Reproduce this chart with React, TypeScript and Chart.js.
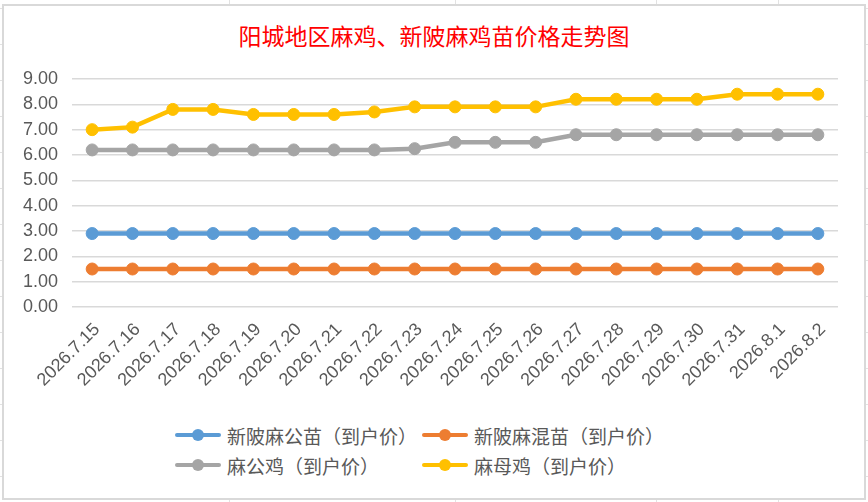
import { useEffect, useRef } from "react";
import { Chart, registerables } from "chart.js";

Chart.register(...registerables);

const categories = [
  "2026.7.15", "2026.7.16", "2026.7.17", "2026.7.18", "2026.7.19",
  "2026.7.20", "2026.7.21", "2026.7.22", "2026.7.23", "2026.7.24",
  "2026.7.25", "2026.7.26", "2026.7.27", "2026.7.28", "2026.7.29",
  "2026.7.30", "2026.7.31", "2026.8.1", "2026.8.2",
];

const xinpiMaleChicks = [2.9, 2.9, 2.9, 2.9, 2.9, 2.9, 2.9, 2.9, 2.9, 2.9, 2.9, 2.9, 2.9, 2.9, 2.9, 2.9, 2.9, 2.9, 2.9];
const xinpiMixedChicks = [1.5, 1.5, 1.5, 1.5, 1.5, 1.5, 1.5, 1.5, 1.5, 1.5, 1.5, 1.5, 1.5, 1.5, 1.5, 1.5, 1.5, 1.5, 1.5];
const maleChicken = [6.2, 6.2, 6.2, 6.2, 6.2, 6.2, 6.2, 6.2, 6.25, 6.5, 6.5, 6.5, 6.8, 6.8, 6.8, 6.8, 6.8, 6.8, 6.8];
const femaleChicken = [7.0, 7.1, 7.8, 7.8, 7.6, 7.6, 7.6, 7.7, 7.9, 7.9, 7.9, 7.9, 8.2, 8.2, 8.2, 8.2, 8.4, 8.4, 8.4];

const seriesNames = ["新陂麻公苗（到户价）", "新陂麻混苗（到户价）", "麻公鸡（到户价）", "麻母鸡（到户价）"];
const seriesColors = ["#5B9BD5", "#ED7D31", "#A5A5A5", "#FFC000"];
const seriesValues = [xinpiMaleChicks, xinpiMixedChicks, maleChicken, femaleChicken];

const yTicks = [0, 1, 2, 3, 4, 5, 6, 7, 8, 9];

const TEXT = "#595959";
const GRID = "#d9d9d9";

export default function App() {
  const chartRef = useRef<HTMLCanvasElement>(null);
  const chartInstance = useRef<Chart | null>(null);

  useEffect(() => {
    if (!chartRef.current) return;
    if (chartInstance.current) chartInstance.current.destroy();
    const ctx = chartRef.current.getContext("2d");
    if (!ctx) return;

    chartInstance.current = new Chart(ctx, {
      type: "line",
      data: {
        labels: categories,
        datasets: seriesNames.map((name, i) => ({
          label: name,
          data: seriesValues[i],
          borderColor: seriesColors[i],
          backgroundColor: seriesColors[i],
          pointBackgroundColor: seriesColors[i],
          pointBorderColor: seriesColors[i],
          borderWidth: 4.5,
          pointRadius: 6,
          pointBorderWidth: 1,
          tension: 0,
          fill: false,
        })),
      },
      options: {
        responsive: false,
        animation: false,
        layout: { padding: { top: 79, left: 0, right: 30, bottom: 0 } },
        plugins: {
          legend: { display: false },
          title: { display: false },
          tooltip: { enabled: false },
        },
        scales: {
          x: {
            offset: true,
            grid: { display: false, drawTicks: false },
            border: { display: false },
            ticks: {
              color: TEXT,
              font: { family: "Liberation Sans", size: 18 },
              minRotation: 45,
              maxRotation: 45,
              autoSkip: false,
              padding: 12,
              labelOffset: 5,
            },
            afterFit: (s: any) => {
              s.height = 93;
            },
          },
          y: {
            min: yTicks[0],
            max: yTicks[yTicks.length - 1],
            afterBuildTicks: (s: any) => {
              s.ticks = yTicks.map((v) => ({ value: v }));
            },
            grid: { color: GRID, lineWidth: 1.5, drawTicks: false },
            border: { display: false },
            ticks: {
              color: TEXT,
              font: { family: "Liberation Sans", size: 18 },
              padding: 14,
              callback: (v: any) => Number(v).toFixed(2),
            },
            afterFit: (s: any) => {
              s.width = 72;
            },
          },
        },
      },
    });

    return () => {
      if (chartInstance.current) {
        chartInstance.current.destroy();
        chartInstance.current = null;
      }
    };
  }, []);

  const sheetRows = Array.from({ length: 14 }, (_, k) => 8 + 36 * k);
  const sheetCols = [229, 455, 656, 778];

  return (
    <div style={{ position: "absolute", left: 0, top: 0, width: 868, height: 502, background: "#fff", overflow: "hidden" }}>
      {sheetRows.map((y) => (
        <div key={"r" + y} style={{ position: "absolute", left: 0, top: y, width: 868, height: 1, background: "#e2e2e2" }} />
      ))}
      {sheetCols.map((x) => (
        <div key={"c" + x} style={{ position: "absolute", left: x, top: 0, width: 1, height: 502, background: "#e2e2e2" }} />
      ))}
      <div
        style={{
          position: "absolute",
          left: 2,
          top: 4,
          width: 860,
          height: 492,
          border: "2px solid #d9d9d9",
          background: "#fff",
        }}
      />
      <div
        style={{
          position: "absolute",
          left: 0,
          top: 20,
          width: 868,
          textAlign: "center",
          color: "#FF0000",
          fontFamily: "'Noto Sans CJK SC'",
          fontSize: 23,
          lineHeight: "30px",
        }}
      >
        阳城地区麻鸡、新陂麻鸡苗价格走势图
      </div>
      <canvas
        ref={chartRef}
        width={868}
        height={400}
        style={{ position: "absolute", left: 0, top: 0, width: 868, height: 400 }}
      />
      <div
        style={{
          position: "absolute",
          left: 175,
          top: 420,
          display: "grid",
          gridTemplateColumns: "247px 247px",
          gridAutoRows: "30px",
          fontFamily: "'Noto Sans CJK SC'",
          fontSize: 19,
          color: TEXT,
        }}
      >
        {seriesNames.map((name, i) => (
          <div key={name} style={{ display: "flex", alignItems: "center", whiteSpace: "nowrap" }}>
            <span style={{ position: "relative", display: "inline-block", width: 46, height: 14, marginRight: 6 }}>
              <span
                style={{
                  position: "absolute",
                  left: 0,
                  top: 5,
                  width: 46,
                  height: 4,
                  borderRadius: 2,
                  background: seriesColors[i],
                }}
              />
              <span
                style={{
                  position: "absolute",
                  left: 17,
                  top: 1,
                  width: 12,
                  height: 12,
                  borderRadius: "50%",
                  background: seriesColors[i],
                }}
              />
            </span>
            <span>{name}</span>
          </div>
        ))}
      </div>
    </div>
  );
}
